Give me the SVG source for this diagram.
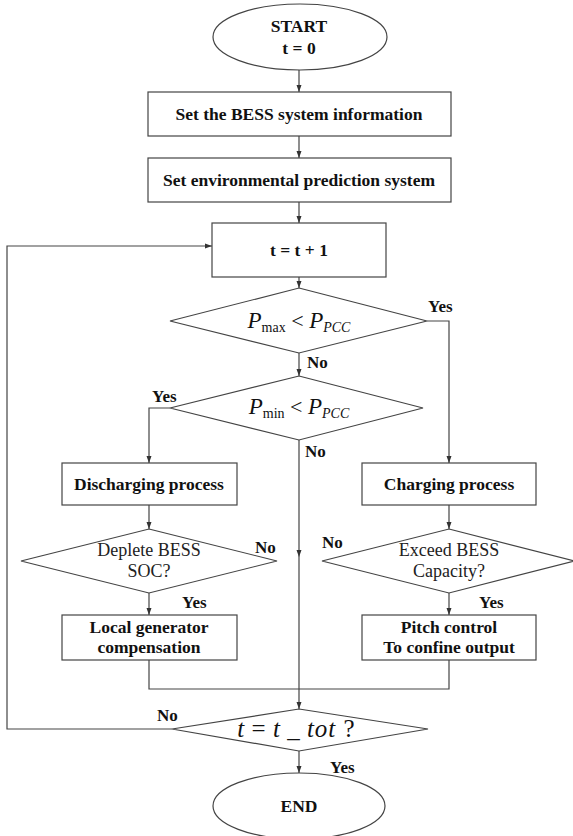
<svg xmlns="http://www.w3.org/2000/svg" width="573" height="836" viewBox="0 0 573 836">
<style>
.shape{fill:#fff;stroke:#444;stroke-width:1.2}
.conn{fill:none;stroke:#444;stroke-width:1.2}
.b{font-family:"Liberation Serif","Times New Roman",serif;font-weight:bold;font-size:17.5px;fill:#111;text-anchor:middle}
.lbl{font-family:"Liberation Serif","Times New Roman",serif;font-weight:bold;font-size:17px;fill:#111}
.r{font-family:"Liberation Serif","Times New Roman",serif;font-size:18px;fill:#222;text-anchor:middle}
.m{font-family:"Liberation Serif","Times New Roman",serif;fill:#111;text-anchor:middle}
</style>
<defs>
<marker id="ah" markerUnits="userSpaceOnUse" markerWidth="8" markerHeight="6" refX="7" refY="3" orient="auto">
<path d="M0,0.5 L7,3 L0,5.5 z" fill="#333"/>
</marker>
</defs>
<g id="connectors">
<path class="conn" d="M299,70 L299,92" marker-end="url(#ah)"/>
<path class="conn" d="M299,136 L299,158" marker-end="url(#ah)"/>
<path class="conn" d="M299,202 L299,223" marker-end="url(#ah)"/>
<path class="conn" d="M299,277 L299,288" marker-end="url(#ah)"/>
<path class="conn" d="M299,353 L299,376" marker-end="url(#ah)"/>
<path class="conn" d="M427,321 L449,321 L449,463" marker-end="url(#ah)"/>
<path class="conn" d="M170,408 L149,408 L149,463" marker-end="url(#ah)"/>
<path class="conn" d="M299,440 L299,557 L299,709" marker-mid="url(#ah)" marker-end="url(#ah)"/>
<path class="conn" d="M149,505 L149,529" marker-end="url(#ah)"/>
<path class="conn" d="M449,505 L449,529" marker-end="url(#ah)"/>
<path class="conn" d="M149,593 L149,615" marker-end="url(#ah)"/>
<path class="conn" d="M449,593 L449,615" marker-end="url(#ah)"/>
<path class="conn" d="M149,660 L149,689 L449,689 L449,660"/>
<path class="conn" d="M299,751 L299,773" marker-end="url(#ah)"/>
<path class="conn" d="M172,729 L7,729 L7,246 L212,246" marker-end="url(#ah)"/>
</g>
<g id="start">
<ellipse class="shape" cx="300" cy="37" rx="87" ry="33"/>
<text class="b" x="299" y="32">START</text>
<text class="b" x="299" y="54">t = 0</text>
</g>
<g id="bess-info">
<rect class="shape" x="148" y="92" width="303" height="44"/>
<text class="b" x="299" y="120">Set the BESS system information</text>
</g>
<g id="env-pred">
<rect class="shape" x="148" y="158" width="303" height="44"/>
<text class="b" x="299" y="186">Set environmental prediction system</text>
</g>
<g id="increment">
<rect class="shape" x="212" y="223" width="174" height="54"/>
<text class="b" x="299" y="256">t = t + 1</text>
</g>
<g id="pmax">
<polygon class="shape" points="299,288 427,321 299,353 170,321"/>
<text class="m" x="299" y="328"><tspan font-style="italic" font-size="23">P</tspan><tspan font-size="14" dy="4">max</tspan><tspan font-size="22" dy="-4"> &lt; </tspan><tspan font-style="italic" font-size="23">P</tspan><tspan font-style="italic" font-size="14" dy="4">PCC</tspan></text>
<text class="lbl" x="428" y="312">Yes</text>
<text class="lbl" x="307" y="368">No</text>
</g>
<g id="pmin">
<polygon class="shape" points="299,376 423,408 299,440 170,408"/>
<text class="m" x="299" y="414"><tspan font-style="italic" font-size="23">P</tspan><tspan font-size="14" dy="4">min</tspan><tspan font-size="22" dy="-4"> &lt; </tspan><tspan font-style="italic" font-size="23">P</tspan><tspan font-style="italic" font-size="14" dy="4">PCC</tspan></text>
<text class="lbl" x="152" y="402">Yes</text>
<text class="lbl" x="305" y="457">No</text>
</g>
<g id="discharging">
<rect class="shape" x="62" y="463" width="175" height="42"/>
<text class="b" x="149" y="490">Discharging process</text>
</g>
<g id="charging">
<rect class="shape" x="362" y="463" width="174" height="42"/>
<text class="b" x="449" y="490">Charging process</text>
</g>
<g id="deplete">
<polygon class="shape" points="149,529 277,561 149,593 21,561"/>
<text class="r" x="149" y="556">Deplete BESS</text>
<text class="r" x="149" y="577">SOC?</text>
<text class="lbl" x="255" y="553">No</text>
<text class="lbl" x="182" y="608">Yes</text>
</g>
<g id="exceed">
<polygon class="shape" points="449,529 574,561 449,593 322,561"/>
<text class="r" x="449" y="556">Exceed BESS</text>
<text class="r" x="449" y="577">Capacity?</text>
<text class="lbl" x="322" y="548">No</text>
<text class="lbl" x="479" y="608">Yes</text>
</g>
<g id="local-gen">
<rect class="shape" x="62" y="615" width="175" height="45"/>
<text class="b" x="149" y="633">Local generator</text>
<text class="b" x="149" y="653">compensation</text>
</g>
<g id="pitch">
<rect class="shape" x="362" y="615" width="174" height="45"/>
<text class="b" x="449" y="633">Pitch control</text>
<text class="b" x="449" y="653">To confine output</text>
</g>
<g id="tot">
<polygon class="shape" points="299,709 428,729 299,751 172,729"/>
<text class="m" x="296" y="737" font-size="25" word-spacing="1"><tspan font-style="italic">t</tspan> = <tspan font-style="italic">t</tspan> _ <tspan font-style="italic" letter-spacing="1">tot</tspan> ?</text>
<text class="lbl" x="157" y="721">No</text>
<text class="lbl" x="330" y="773">Yes</text>
</g>
<g id="end">
<ellipse class="shape" cx="299" cy="806" rx="86" ry="33"/>
<text class="b" x="299" y="812">END</text>
</g>
</svg>
